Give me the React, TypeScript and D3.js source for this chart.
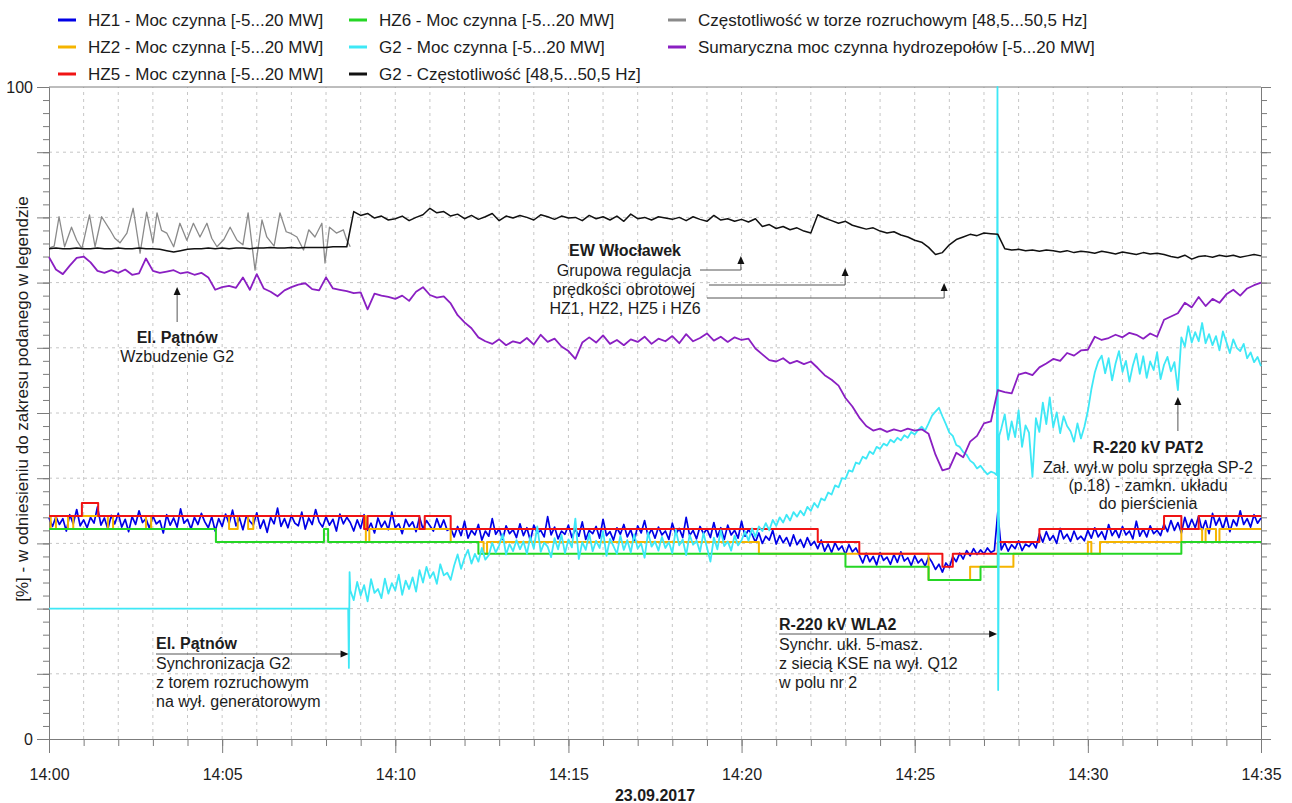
import React, { useRef, useEffect } from 'react';
import * as d3 from 'd3';

const width = 1292;
const height = 803;
const font = '"Liberation Sans", Arial, Helvetica, sans-serif';

// czas w minutach od 14:00
const timeTicks = [0, 5, 10, 15, 20, 25, 30, 35];
const timeLabels = ['14:00', '14:05', '14:10', '14:15', '14:20', '14:25', '14:30', '14:35'];
const yLabelValues = [0, 100];
const dateLabel = '23.09.2017';
const yTitle = '[%] - w odniesieniu do zakresu podanego w legendzie';

const legendNames = [
  'HZ1 - Moc czynna [-5...20 MW]',
  'HZ2 - Moc czynna [-5...20 MW]',
  'HZ5 - Moc czynna [-5...20 MW]',
  'HZ6 - Moc czynna [-5...20 MW]',
  'G2 - Moc czynna [-5...20 MW]',
  'G2 - Częstotliwość [48,5...50,5 Hz]',
  'Częstotliwość w torze rozruchowym [48,5...50,5 Hz]',
  'Sumaryczna moc czynna hydrozepołów [-5...20 MW]',
];
const legendColors = ['#0000e6', '#f5b400', '#f01414', '#25d625', '#3ee8f6', '#111111', '#8a8a8a', '#8a1fc2'];

// HZ1 - probki co 0.1 min
const hz1 = [
  33.9,32.6,34.1,32.9,33.8,31.9,34.4,33.0,35.2,32.7,
  33.6,32.4,34.0,33.1,35.6,32.8,33.9,32.2,34.3,33.0,
  34.6,32.5,33.7,31.8,34.1,32.9,35.0,33.2,33.8,32.3,
  34.2,33.0,33.5,31.6,34.4,32.8,33.9,32.5,35.3,33.1,
  33.7,32.2,34.0,32.9,34.6,33.3,32.4,34.1,31.9,33.8,
  32.6,34.5,33.0,35.1,32.7,33.9,32.1,34.2,33.4,32.8,
  34.7,32.3,33.6,31.7,34.0,33.0,35.4,32.6,33.8,32.4,
  34.3,33.1,32.7,34.8,32.2,33.9,32.9,35.2,33.3,32.5,
  34.1,32.8,33.7,31.9,34.5,33.0,34.0,
  33.2,31.9,33.6,32.3,34.4,32.0,33.1,31.6,33.9,32.5,
  33.4,32.1,34.8,32.4,33.0,31.5,33.7,32.6,33.3,31.8,
  34.0,32.2,33.5,32.7,31.9,33.8,32.3,33.6,32.0,
  32.3,31.0,32.6,31.2,33.4,30.8,32.0,31.3,32.9,30.5,
  31.9,31.1,33.8,31.4,32.2,30.6,32.7,31.5,32.1,30.9,
  33.0,31.2,32.4,30.4,32.8,31.6,32.0,31.0,34.1,31.3,
  32.5,30.7,31.9,31.4,32.8,30.9,32.2,31.1,33.3,30.6,
  32.0,31.5,32.6,30.8,33.7,31.2,31.8,30.5,32.4,31.4,
  32.9,31.0,32.1,30.3,32.7,31.6,33.5,31.1,32.2,30.8,
  32.5,31.3,31.9,30.6,33.1,31.4,32.3,30.9,34.0,31.2,
  32.0,30.7,32.6,31.5,32.2,30.9,33.2,31.0,32.4,30.6,
  32.8,31.3,32.0,30.8,33.4,31.1,32.1,
  31.4,30.2,31.6,30.0,31.1,30.5,32.0,29.9,31.2,30.1,
  30.9,29.6,31.3,29.8,30.6,29.4,30.9,29.7,30.3,29.2,
  30.5,28.8,29.9,28.6,30.1,29.0,29.6,28.3,29.8,28.7,29.3,
  28.2,27.0,28.5,27.2,28.0,26.7,28.6,27.4,27.9,26.8,
  28.3,27.1,28.7,27.3,27.8,26.6,28.1,27.0,27.6,26.5,27.9,
  27.1,26.0,26.8,25.6,27.0,26.3,
  28.0,27.2,28.5,27.6,28.9,28.1,29.2,28.3,29.0,28.4,29.3,28.6,28.9,
  34.8,
  29.0,30.1,28.8,29.8,29.2,30.4,28.9,29.9,29.5,30.2,29.3,
  31.5,30.2,31.8,30.5,31.2,30.0,32.3,30.7,31.4,30.3,31.9,30.6,31.1,30.4,
  32.0,30.8,32.4,31.0,31.8,30.6,32.9,31.2,32.1,30.9,32.6,31.3,31.9,30.7,33.4,31.1,32.2,31.0,32.7,31.5,32.0,31.2,
  33.0,31.8,33.5,32.0,33.2,31.6,34.0,32.3,
  33.7,32.4,34.2,32.0,33.5,31.5,34.6,32.8,33.9,32.2,34.1,31.8,33.6,32.7,35.0,32.9,33.8,32.5,34.4,33.1,33.9,
];

// HZ2, HZ5, HZ6 - zmiany schodkowe [min, %]
const hz2 = [
  [0, 34.2], [0.05, 32.2], [0.2, 34.2], [0.55, 32.2], [0.7, 34.2], [1.7, 32.2], [1.85, 34.2],
  [2.8, 32.2], [2.95, 34.2], [5.2, 32.2], [5.45, 34.2], [5.75, 32.2], [5.9, 34.2], [9.15, 30.2],
  [9.25, 32.2], [11.6, 30.2], [12.55, 28.4], [12.65, 30.2], [20.5, 28.4], [25.4, 24.4], [26.6, 26.4],
  [27.85, 28.4], [30.0, 30.2], [30.1, 28.4], [30.35, 30.2], [32.7, 32.2], [33.3, 30.2], [33.4, 32.2],
  [33.7, 30.2], [33.8, 32.2], [35, 32.2],
];
const hz5 = [
  [0, 34.2], [0.95, 36.2], [1.42, 34.2], [9.1, 32.2], [9.2, 34.2], [10.7, 32.2], [10.85, 34.2],
  [11.6, 32.2], [22.2, 30.2], [23.4, 28.4], [25.8, 26.4], [26.1, 28.4], [27.4, 30.2], [28.6, 32.2],
  [32.2, 34.2], [32.7, 32.2], [33.2, 34.2], [35, 34.2],
];
const hz6 = [
  [0, 32.2], [4.82, 30.2], [7.94, 32.2], [8.06, 30.2], [12.4, 28.4], [23.0, 26.4], [25.4, 24.4],
  [26.9, 26.4], [27.4, 28.4], [32.7, 30.2], [35, 30.2],
];

// G2 moc: przed synchronizacja, od 8.7 min co 0.1, impuls, od 27.5 min co 0.1
const g2PowerStart = [[0, 20], [8.64, 20], [8.66, 10.9], [8.68, 25.6]];
const g2PowerA = [
  22.8,21.3,24.1,22.0,23.6,21.1,24.5,22.4,23.0,21.6,
  24.6,22.3,23.9,22.8,25.2,22.1,24.3,23.0,24.8,22.6,
  25.9,24.0,26.4,24.7,25.6,23.8,26.8,25.1,25.5,24.4,
  26.6,28.3,26.1,27.8,29.0,26.9,28.4,27.2,29.3,27.5,
  28.2,30.1,28.6,29.7,31.4,28.3,29.9,28.8,30.5,29.1,
  30.3,28.4,31.0,29.2,32.6,28.7,30.1,29.5,27.9,30.8,
  29.1,31.3,28.5,30.6,29.4,33.8,27.6,30.2,29.0,31.5,
  28.8,30.4,29.3,31.9,28.1,30.7,29.6,28.4,31.2,29.0,
  30.5,28.6,31.4,29.2,30.0,27.8,31.7,29.5,30.3,28.9,
  31.0,29.3,30.2,28.5,32.1,29.7,30.6,28.2,31.3,29.8,
  30.4,28.7,31.6,29.4,27.2,30.9,29.1,32.0,29.6,30.3,
  28.9,31.2,29.7,30.5,31.8,30.4,32.3,31.0,32.6,31.9,
  33.1,32.0,33.6,32.7,34.0,33.2,34.4,33.5,34.8,34.1,
  35.0,34.3,35.6,35.0,36.2,35.5,36.9,36.6,37.8,37.5,
  38.9,38.6,40.0,39.9,41.2,41.0,42.4,42.2,43.3,43.0,
  44.1,43.7,44.8,44.5,45.3,45.0,45.9,45.5,46.2,45.8,
  46.6,46.2,47.1,46.7,47.4,47.9,47.3,48.4,49.6,50.2,
  50.8,49.5,48.3,47.0,46.5,45.1,44.8,44.0,43.6,42.7,
  42.3,41.5,41.9,41.2,40.6,41.0,40.8,
];
const g2PowerSpike = [[27.37, 40.5], [27.39, 100], [27.41, 7.5], [27.44, 46.5]];
const g2PowerB = [
  47.6,49.8,45.9,48.7,46.3,50.4,44.8,48.1,47.0,40.2,
  49.2,47.1,51.6,48.3,52.4,47.8,50.1,46.9,49.5,48.0,
  47.2,45.6,48.4,46.1,47.9,50.3,53.6,56.2,57.9,58.8,
  56.1,58.4,55.0,57.6,59.5,56.3,58.0,54.8,57.3,59.1,
  56.0,58.7,55.4,57.9,56.6,59.3,55.2,57.4,58.6,56.4,
  57.8,53.5,61.6,60.2,63.3,60.8,62.4,61.0,63.8,60.7,
  62.1,60.4,61.8,59.6,62.5,60.9,59.2,61.3,60.0,59.5,
  60.6,58.4,59.3,57.8,58.6,57.2,
];

// G2 czestotliwosc - co 0.2 min
const g2Freq = [
  75.2,75.3,75.2,75.2,75.3,75.2,75.2,75.3,75.2,75.2,
  75.3,75.2,75.2,75.3,75.2,75.2,75.1,74.9,74.7,74.9,
  75.1,75.2,75.2,75.3,75.2,75.3,75.2,75.3,75.3,75.2,
  75.3,75.3,75.4,75.3,75.3,75.4,75.3,75.4,75.4,75.4,
  75.4,75.5,75.5,75.5,80.9,80.3,80.6,79.9,80.2,79.6,
  79.8,80.2,79.5,80.0,80.4,81.4,80.7,80.9,80.2,80.5,
  79.8,80.3,79.7,80.1,80.6,79.5,80.2,79.9,80.3,80.0,
  79.6,80.4,80.1,79.7,80.2,79.9,80.0,79.5,80.3,79.8,
  80.1,79.6,80.2,79.4,80.5,79.8,80.0,79.6,80.1,79.9,
  79.7,80.0,79.5,80.1,79.7,79.4,80.3,79.6,79.8,79.4,
  79.7,79.3,79.8,78.6,78.9,78.3,78.6,78.1,78.4,77.9,
  77.6,80.4,79.9,79.5,79.1,79.4,78.8,78.5,78.2,78.4,
  77.9,77.6,77.8,77.3,77.0,76.5,76.2,75.4,74.3,74.6,
  75.8,76.6,77.0,77.4,77.2,77.6,77.5,77.4,75.2,75.0,
  75.1,74.9,75.0,74.8,75.0,74.9,74.7,74.9,74.6,74.8,
  74.7,74.5,74.8,74.6,74.4,74.7,74.5,74.3,74.6,74.4,
  74.5,74.3,74.0,73.8,74.2,73.6,74.0,74.1,73.9,74.2,
  74.0,74.2,73.9,74.1,74.3,74.1,
];

// czestotliwosc w torze rozruchowym [min, %]
const startupFreq = [
  [0, 75.3], [0.15, 75.6], [0.29, 80.1], [0.45, 75.5], [0.65, 78.5], [0.8, 76.5], [0.95, 75.2],
  [1.17, 80.4], [1.33, 75.5], [1.52, 80.1], [1.76, 78.1], [1.9, 76.8], [2.05, 76.1], [2.25, 77.6],
  [2.43, 81.4], [2.63, 74.5], [2.82, 80.8], [3.0, 76.1], [3.12, 80.7], [3.25, 78.0], [3.4, 77.6],
  [3.6, 75.5], [3.78, 79.1], [3.98, 76.5], [4.17, 79.1], [4.36, 77.0], [4.56, 79.1], [4.7, 76.8],
  [4.85, 75.5], [5.05, 76.6], [5.23, 78.5], [5.43, 76.5], [5.6, 75.8], [5.75, 80.7], [5.95, 71.9],
  [6.15, 79.6], [6.29, 77.0], [6.5, 75.6], [6.67, 80.7], [6.85, 77.8], [6.96, 77.6], [7.16, 77.0],
  [7.35, 75.0], [7.5, 78.1], [7.68, 77.0], [7.88, 79.1], [7.97, 73.0], [8.1, 78.5], [8.3, 77.6],
  [8.5, 78.1], [8.6, 76.5], [8.7, 75.5],
];

// suma mocy hydrozespolow - co 0.2 min
const totalPower = [
  73.9,72.0,71.3,72.6,73.8,74.0,73.1,71.8,71.5,71.9,
  71.5,72.0,71.2,71.4,73.7,71.8,71.5,71.7,71.9,71.4,
  71.6,71.2,71.5,70.8,68.9,69.3,69.5,69.2,70.8,68.9,
  71.3,69.1,68.6,67.9,68.8,69.3,69.7,69.9,69.0,68.8,
  70.8,69.1,68.9,68.7,68.4,68.5,65.9,68.3,68.0,67.8,
  67.5,68.0,67.2,68.6,69.3,68.1,67.7,67.9,66.8,65.0,
  63.9,63.0,61.6,61.0,60.6,61.3,60.4,61.0,60.7,61.5,
  60.5,62.0,60.9,61.4,60.2,59.5,58.3,60.8,61.6,60.8,
  61.9,60.6,61.2,60.4,61.3,60.9,61.7,60.6,61.4,61.0,
  61.8,60.7,62.1,61.0,61.5,62.2,61.1,61.7,60.9,61.6,
  61.2,61.4,59.9,59.0,58.1,57.9,58.4,57.6,58.0,57.5,
  57.9,56.9,55.8,55.1,54.2,52.3,51.0,49.3,48.0,47.3,
  47.6,47.1,47.5,47.2,47.6,47.3,47.5,46.8,43.6,41.2,
  41.5,43.9,43.2,45.6,46.5,48.4,48.7,53.5,53.2,53.0,
  55.9,56.2,55.8,57.0,57.6,58.3,58.0,59.2,58.8,59.6,
  59.7,61.7,61.2,61.5,62.0,61.6,62.3,62.0,61.4,62.2,
  61.7,64.3,64.8,65.3,66.9,66.2,67.8,66.4,67.5,66.9,
  68.2,68.9,68.0,69.1,69.6,70.0,
];

const App = () => {
  const svgRef = useRef<SVGSVGElement>(null);

  useEffect(() => {
    draw();
  }, []);

  const draw = () => {
    const svg = d3.select(svgRef.current);
    svg.selectAll('*').remove();

    const margin = { top: 87, right: 31, bottom: 64, left: 49 };
    const x = d3.scaleLinear().domain([0, 35]).range([margin.left, width - margin.right]);
    const y = d3.scaleLinear().domain([0, 100]).range([height - margin.bottom, margin.top]);
    const axisColor = '#7c7c7c';
    const textColor = '#1c1c1c';

    // siatka
    svg.append('g').selectAll('line').data(d3.range(1, 35)).join('line')
      .attr('x1', d => x(d)).attr('x2', d => x(d))
      .attr('y1', y(0)).attr('y2', y(100))
      .attr('stroke', '#c6c6c6').attr('stroke-dasharray', '3,4');
    svg.append('g').selectAll('line').data(d3.range(10, 100, 10)).join('line')
      .attr('x1', x(0)).attr('x2', x(35))
      .attr('y1', d => y(d)).attr('y2', d => y(d))
      .attr('stroke', '#c6c6c6').attr('stroke-dasharray', '3,4');

    svg.append('line')
      .attr('x1', x(0)).attr('x2', x(35)).attr('y1', y(100)).attr('y2', y(100))
      .attr('stroke', axisColor);

    const styleAxis = (g: any) => {
      g.selectAll('path.domain').attr('stroke', axisColor);
      g.selectAll('.tick line').attr('stroke', axisColor);
      g.selectAll('text').attr('font-family', font).attr('font-size', 16).attr('fill', textColor);
    };

    // os X
    svg.append('g').attr('transform', `translate(0,${y(0)})`)
      .call(d3.axisBottom(x).tickValues(d3.range(0, 36)).tickSize(7).tickSizeOuter(0).tickFormat(() => ''))
      .call(styleAxis);
    svg.append('g').attr('transform', `translate(0,${y(0)})`)
      .call(d3.axisBottom(x).tickValues(timeTicks).tickSize(14).tickPadding(16).tickSizeOuter(0)
        .tickFormat((d, i) => timeLabels[i]))
      .call(styleAxis);

    // os Y lewa
    svg.append('g').attr('transform', `translate(${x(0)},0)`)
      .call(d3.axisLeft(y).tickValues(d3.range(0, 101, 2)).tickSize(6).tickSizeOuter(0).tickFormat(() => ''))
      .call(styleAxis);
    svg.append('g').attr('transform', `translate(${x(0)},0)`)
      .call(d3.axisLeft(y).tickValues(d3.range(0, 101, 10)).tickSize(12).tickPadding(4).tickSizeOuter(0)
        .tickFormat(d => (yLabelValues.includes(+d) ? String(d) : '')))
      .call(styleAxis);

    // os Y prawa
    svg.append('g').attr('transform', `translate(${x(35)},0)`)
      .call(d3.axisRight(y).tickValues(d3.range(0, 101, 2)).tickSize(6).tickSizeOuter(0).tickFormat(() => ''))
      .call(styleAxis);
    svg.append('g').attr('transform', `translate(${x(35)},0)`)
      .call(d3.axisRight(y).tickValues(d3.range(0, 101, 10)).tickSize(10).tickSizeOuter(0).tickFormat(() => ''))
      .call(styleAxis);

    svg.append('text')
      .attr('x', (x(0) + x(35)) / 2).attr('y', 801)
      .attr('text-anchor', 'middle').attr('font-weight', 'bold')
      .attr('font-family', font).attr('font-size', 16).attr('fill', textColor)
      .text(dateLabel);

    svg.append('text')
      .attr('transform', `translate(22, ${(y(0) + y(100)) / 2 - 14}) rotate(-90)`)
      .attr('text-anchor', 'middle').attr('dy', '0.35em')
      .attr('font-family', font).attr('font-size', 17).attr('fill', textColor)
      .text(yTitle);

    // serie
    const line = d3.line<number[]>().x(d => x(d[0])).y(d => y(d[1]));
    const stepLine = d3.line<number[]>().x(d => x(d[0])).y(d => y(d[1])).curve(d3.curveStepAfter);

    const hz1Pts = hz1.map((v, i) => [i * 0.1, v]);
    const g2Pts = [
      ...g2PowerStart,
      ...g2PowerA.map((v, i) => [8.7 + i * 0.1, v]),
      ...g2PowerSpike,
      ...g2PowerB.map((v, i) => [27.5 + i * 0.1, v]),
    ];
    const freqPts = g2Freq.map((v, i) => [i * 0.2, v]);
    const totalPts = totalPower.map((v, i) => [i * 0.2, v]);

    const plot = svg.append('g').attr('fill', 'none').attr('stroke-linejoin', 'round');
    plot.append('path').attr('d', line(hz1Pts)).attr('stroke', legendColors[0]).attr('stroke-width', 1.7);
    plot.append('path').attr('d', stepLine(hz2)).attr('stroke', legendColors[1]).attr('stroke-width', 2);
    plot.append('path').attr('d', stepLine(hz5)).attr('stroke', legendColors[2]).attr('stroke-width', 2);
    plot.append('path').attr('d', stepLine(hz6)).attr('stroke', legendColors[3]).attr('stroke-width', 2);
    plot.append('path').attr('d', line(g2Pts)).attr('stroke', legendColors[4]).attr('stroke-width', 1.8);
    plot.append('path').attr('d', line(startupFreq)).attr('stroke', legendColors[6]).attr('stroke-width', 1.3);
    plot.append('path').attr('d', line(freqPts)).attr('stroke', legendColors[5]).attr('stroke-width', 1.5);
    plot.append('path').attr('d', line(totalPts)).attr('stroke', legendColors[7]).attr('stroke-width', 1.8);

    // legenda
    const colX = [88, 379, 698];
    const legend = svg.append('g').attr('font-family', font).attr('font-size', 17).attr('fill', textColor);
    legendNames.forEach((name, i) => {
      const cx = colX[Math.floor(i / 3)];
      const cy = 20 + (i % 3) * 27;
      legend.append('line')
        .attr('x1', cx - 30).attr('x2', cx - 12).attr('y1', cy).attr('y2', cy)
        .attr('stroke', legendColors[i]).attr('stroke-width', 3);
      legend.append('text').attr('x', cx).attr('y', cy).attr('dy', '0.35em').text(name);
    });

    // adnotacje
    const note = svg.append('g').attr('font-family', font).attr('font-size', 16).attr('fill', textColor);
    const label = (tx: number, ty: number, str: string, anchor: string, bold = false) =>
      note.append('text').attr('x', tx).attr('y', ty).attr('dy', '0.35em')
        .attr('text-anchor', anchor).attr('font-weight', bold ? 'bold' : 'normal').text(str);
    const lead = (pts: number[][]) =>
      note.append('path').attr('d', d3.line()(pts as [number, number][])).attr('fill', 'none')
        .attr('stroke', '#555').attr('stroke-width', 1);
    const head = (hx: number, hy: number, dir: string) => {
      const s = 3.5, l = 8;
      const pts = dir === 'up'
        ? [[hx, hy], [hx - s, hy + l], [hx + s, hy + l]]
        : [[hx, hy], [hx - l, hy - s], [hx - l, hy + s]];
      note.append('path').attr('d', d3.line()(pts as [number, number][]) + 'Z').attr('fill', '#111');
    };

    // El. Patnow - wzbudzenie
    const tA = x(3.7);
    label(tA, 337, 'El. Pątnów', 'middle', true);
    label(tA, 356, 'Wzbudzenie G2', 'middle');
    lead([[tA, 322], [tA, 292]]);
    head(tA, 287, 'up');

    // EW Wloclawek
    label(625, 250, 'EW Włocławek', 'middle', true);
    label(624, 270, 'Grupowa regulacja', 'middle');
    label(624, 289, 'prędkości obrotowej', 'middle');
    label(625, 308, 'HZ1, HZ2, HZ5 i HZ6', 'middle');
    [[19.98, 270, 700, 256], [22.99, 285, 709, 268], [25.85, 298, 707, 283]].forEach(([t, ly, lx, hy]) => {
      lead([[lx, ly], [x(t), ly], [x(t), hy + 5]]);
      head(x(t), hy, 'up');
    });

    // El. Patnow - synchronizacja
    label(156, 643, 'El. Pątnów', 'start', true);
    lead([[156, 654], [x(8.65) - 6, 654]]);
    head(x(8.65), 654, 'right');
    label(156, 663, 'Synchronizacja G2', 'start');
    label(156, 682, 'z torem rozruchowym', 'start');
    label(156, 701, 'na wył. generatorowym', 'start');

    // R-220 kV WLA2
    label(779, 624, 'R-220 kV WLA2', 'start', true);
    lead([[779, 634], [x(27.38) - 6, 634]]);
    head(x(27.38), 634, 'right');
    label(779, 644, 'Synchr. ukł. 5-masz.', 'start');
    label(779, 663, 'z siecią KSE na wył. Q12', 'start');
    label(779, 682, 'w polu nr 2', 'start');

    // R-220 kV PAT2
    label(1148, 447, 'R-220 kV PAT2', 'middle', true);
    label(1148, 467, 'Zał. wył.w polu sprzęgła SP-2', 'middle');
    label(1148, 485, '(p.18) - zamkn. układu', 'middle');
    label(1148, 503, 'do pierścienia', 'middle');
    lead([[x(32.6), 431], [x(32.6), 402]]);
    head(x(32.6), 397, 'up');
  };

  return (
    <svg
      ref={svgRef}
      width={width}
      height={height}
      style={{ position: 'absolute', left: 0, top: 0, background: '#fff' }}
    ></svg>
  );
};

export default App;
